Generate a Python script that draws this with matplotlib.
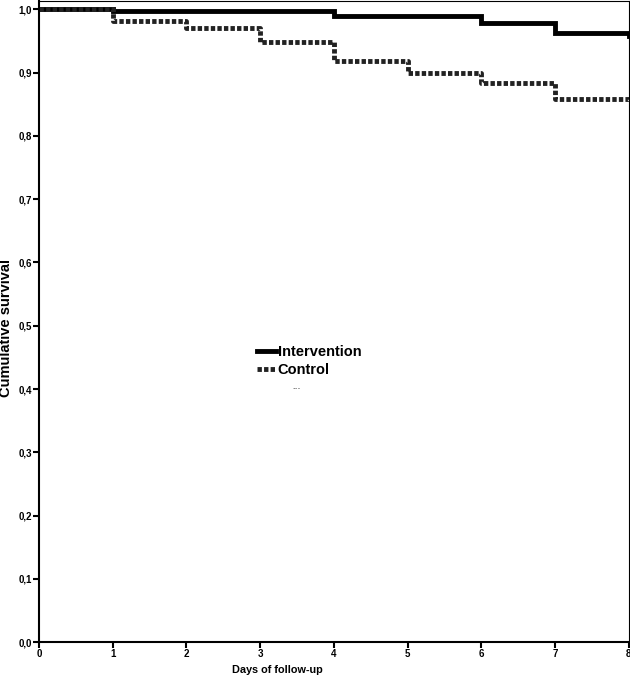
import matplotlib
matplotlib.use('Agg')
import matplotlib.pyplot as plt
from matplotlib.ticker import FuncFormatter

# step times (days) and survival after each step
days = [0, 1, 2, 3, 4, 5, 6, 7, 8]
intervention = [1.0, 0.997, 0.997, 0.997, 0.990, 0.990, 0.979, 0.962, 0.958]
control = [1.0, 0.981, 0.970, 0.948, 0.919, 0.899, 0.883, 0.859, 0.855]

x_ticks = [0, 1, 2, 3, 4, 5, 6, 7, 8]
y_ticks = [0.0, 0.1, 0.2, 0.3, 0.4, 0.5, 0.6, 0.7, 0.8, 0.9, 1.0]

plt.rcParams['font.family'] = ['Liberation Sans', 'DejaVu Sans']
plt.rcParams['font.weight'] = 'bold'

fig = plt.figure(figsize=(6.3, 6.81), dpi=100)
ax = fig.add_axes([0.062, 0.057, 0.936, 0.941])

ax.step(days, intervention, where='post', color='black', lw=3.5,
        solid_joinstyle='miter', label='Intervention')
ax.step(days, control, where='post', color='#222222', lw=3.5,
        linestyle=(0, (0.9, 0.45)), label='Control')

ax.set_xlim(0, 8)
ax.set_ylim(0, 1.0125)
ax.set_xticks(x_ticks)
ax.set_yticks(y_ticks)
ax.yaxis.set_major_formatter(FuncFormatter(lambda v, p: ('%.1f' % v).replace('.', ',')))
ax.tick_params(axis='both', direction='out', length=4, width=1.5, labelsize=7, pad=1)
for s in ax.spines.values():
    s.set_linewidth(1.5)
ax.spines['top'].set_linewidth(0.8)
ax.spines['right'].set_linewidth(0.8)

ax.set_xlabel('Days of follow-up', fontsize=7.8, fontweight='bold', labelpad=3)
ax.xaxis.set_label_coords(0.404, -0.036)
ax.set_ylabel('Cumulative survival', fontsize=10.5, fontweight='bold', labelpad=2)
ax.yaxis.set_label_coords(-0.045, 0.49)

leg = ax.legend(loc='upper left', bbox_to_anchor=(0.36, 0.473), frameon=False,
                handlelength=1.3, handletextpad=0.1, labelspacing=0.3,
                borderaxespad=0, prop={'size': 10.5, 'weight': 'bold'})
ax.text(0.437, 0.392, '···', transform=ax.transAxes, fontsize=6, ha='center',
        color='#444444')

fig.savefig('out.png', dpi=100)
